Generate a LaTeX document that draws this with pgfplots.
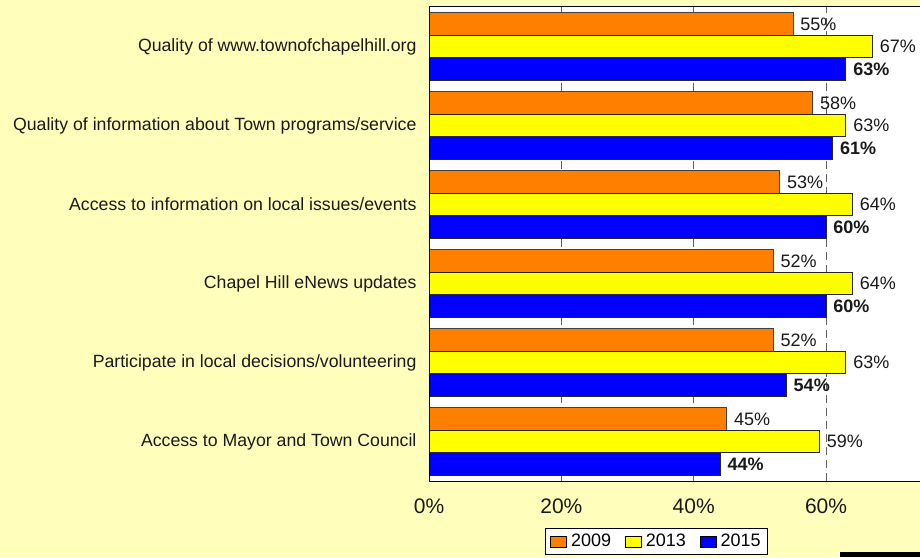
\documentclass[border=0pt]{standalone}
\usepackage{pgfplots}
\pgfplotsset{compat=1.18}
\usepackage{fontspec}
\setmainfont{Liberation Sans}
\definecolor{bg}{HTML}{FFFFBB}
\definecolor{c09}{HTML}{FF8000}
\definecolor{c13}{HTML}{FFFF00}
\definecolor{c15}{HTML}{0000FF}
\definecolor{gridc}{HTML}{606060}
\begin{document}
\begin{tikzpicture}
\useasboundingbox (0,0) rectangle (920pt,557pt);
\fill[bg] (0,0) rectangle (920pt,557pt);
\fill[black] (840pt,0pt) rectangle (920pt,5pt);
\begin{axis}[
  at={(429pt,76pt)}, anchor=south west,
  scale only axis, width=491pt, height=474pt,
  xmin=0, xmax=74.2, ymin=-0.5, ymax=5.5,
  axis background/.style={fill=white},
  axis line style={draw=none},
  xtick={0,20,40,60}, xticklabels={0\%,20\%,40\%,60\%},
  ytick={0,1,2,3,4,5},
  yticklabels={Access to Mayor and Town Council,
    Participate in local decisions/volunteering,
    Chapel Hill eNews updates,
    Access to information on local issues/events,
    Quality of information about Town programs/service,
    Quality of www.townofchapelhill.org},
  major tick length=0pt,
  xmajorgrids, major grid style={gridc, line width=0.9pt, dash pattern=on 8pt off 5pt},
  /pgf/number format/assume math mode=true,
  xticklabel style={font=\fontsize{21}{24}\selectfont, text=black!90, yshift=-14pt},
  yticklabel style={font=\fontsize{17.7}{20}\selectfont, text=black!90, anchor=east, xshift=-9pt},
  xbar, bar width=22.5pt,
  nodes near coords={\pgfmathprintnumber{\pgfplotspointmeta}\%},
  nodes near coords align={horizontal},
  every node near coord/.append style={font=\fontsize{18}{20}\selectfont, text=black!90, inner sep=1pt, xshift=6pt},
  legend columns=3,
  legend style={at={(0.4633,-0.0992)}, anchor=north, draw=black, line width=0.8pt, fill=white,
    font=\fontsize{18}{20}\selectfont, inner xsep=5pt, inner ysep=4pt,
    /tikz/every even column/.append style={column sep=12pt},
    /tikz/every odd column/.append style={column sep=2pt}},
  legend image code/.code={\draw[#1, line width=0.8pt, draw=black] (0pt,-5.5pt) rectangle (16pt,5.5pt);},
  clip=false,
]
\addplot[fill=c09, draw=black!75, line width=0.8pt, bar shift=22.5pt] coordinates {(45,0) (52,1) (52,2) (53,3) (58,4) (55,5)};
\addplot[fill=c13, draw=black!85, line width=0.8pt, bar shift=0pt] coordinates {(59,0) (63,1) (64,2) (64,3) (63,4) (67,5)};
\addplot[fill=c15, draw=black!85, line width=0.8pt, bar shift=-22.5pt,
  every node near coord/.append style={font=\fontsize{18}{20}\selectfont\bfseries}] coordinates {(44,0) (54,1) (60,2) (60,3) (61,4) (63,5)};
\legend{2009,2013,2015\hspace{12pt}}
\draw[black, line width=1pt] (rel axis cs:1,1) -- (rel axis cs:0,1) -- (rel axis cs:0,0) -- (rel axis cs:1,0);
\end{axis}
\end{tikzpicture}
\end{document}
